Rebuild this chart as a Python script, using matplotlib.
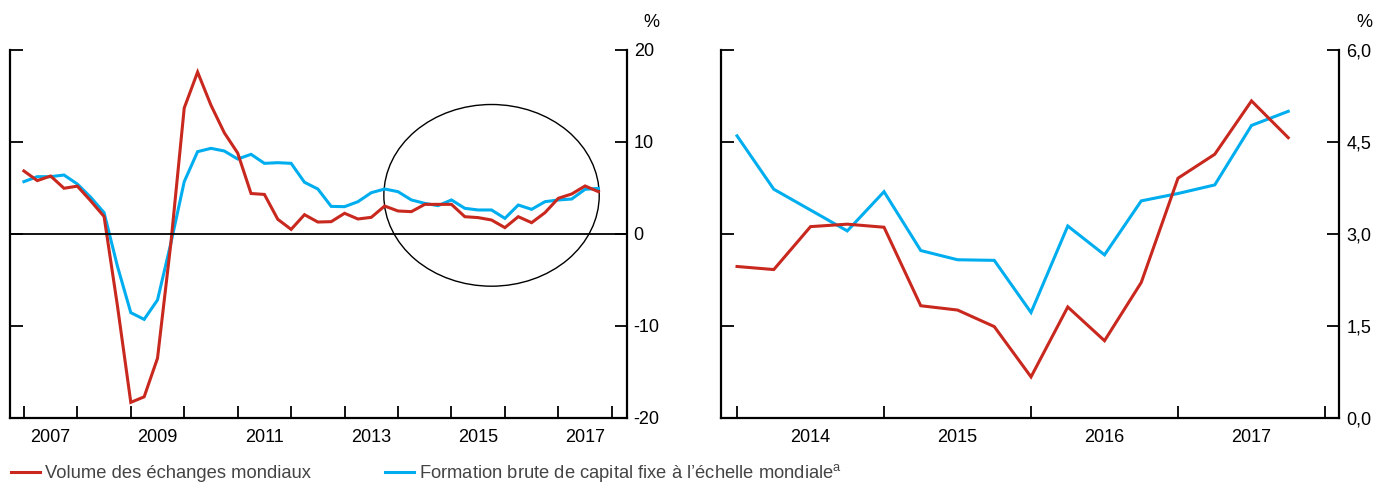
import numpy as np
import matplotlib
matplotlib.use("Agg")
import matplotlib.pyplot as plt
from matplotlib.patches import Ellipse
from matplotlib.lines import Line2D

plt.rcParams['font.family'] = ['Liberation Sans', 'DejaVu Sans']
plt.rcParams['mathtext.fontset'] = 'custom'
plt.rcParams['mathtext.rm'] = 'Liberation Sans'
plt.rcParams['axes.unicode_minus'] = False

RED = '#c8281e'
BLUE = '#00aeef'

# gauche : trimestriel 2007T1 - 2017T4, en %
echanges_long = [6.85, 5.8, 6.3, 4.97, 5.2, 3.6, 1.9, -7.8, -18.3, -17.7, -13.5, -1.0,
                 13.7, 17.6, 14.0, 11.0, 8.8, 4.4, 4.3, 1.6, 0.5, 2.1, 1.3, 1.34,
                 2.25, 1.63, 1.81, 3.04, 2.5, 2.43, 3.22, 3.22, 3.22, 1.88, 1.78, 1.52,
                 0.69, 1.88, 1.23, 2.32, 3.88, 4.35, 5.22, 4.6]
fbcf_long = [5.69, 6.23, 6.23, 6.41, 5.43, 3.99, 2.32, -3.5, -8.55, -9.28, -7.17, -1.0,
             5.69, 8.95, 9.31, 9.02, 8.15, 8.66, 7.68, 7.75, 7.68, 5.62, 4.89, 3.0,
             2.97, 3.51, 4.49, 4.89, 4.6, 3.7, 3.33, 3.08, 3.7, 2.79, 2.61, 2.61,
             1.7, 3.15, 2.68, 3.51, 3.7, 3.8, 4.86, 4.96]
# droite : trimestriel 2014T1 - 2017T4, en %
echanges_court = [2.47, 2.42, 3.12, 3.16, 3.11, 1.83, 1.76, 1.49,
                  0.67, 1.81, 1.26, 2.21, 3.91, 4.3, 5.17, 4.57]
fbcf_court = [4.6, 3.73, 3.39, 3.05, 3.69, 2.73, 2.58, 2.57,
              1.72, 3.13, 2.66, 3.54, 3.66, 3.8, 4.77, 5.0]

x_long = 2007 + np.arange(len(echanges_long)) / 4
x_court = 2014 + np.arange(len(echanges_court)) / 4

fig = plt.figure(figsize=(13.9, 4.83), dpi=100)
ax1 = fig.add_axes([0.0072, 0.1346, 0.4437, 0.7619])
ax2 = fig.add_axes([0.5185, 0.1346, 0.4450, 0.7619])


def habillage(ax, years, labels, yticks, ylabels):
    for s in ['left', 'right', 'bottom']:
        ax.spines[s].set_linewidth(1.6)
    ax.spines['top'].set_visible(False)
    ax.set_xticks(years)
    ax.set_xticklabels([])
    ax.set_xticks([y + 0.5 for y in labels], minor=True)
    ax.set_xticklabels([str(y) for y in labels], minor=True)
    ax.tick_params(axis='x', which='major', direction='in', length=9, width=1.3)
    ax.tick_params(axis='x', which='minor', length=0, pad=8, labelsize=13)
    ax.set_yticks(yticks)
    ax.set_yticklabels(ylabels)
    ax.tick_params(axis='y', direction='in', length=9, width=1.3, left=True, right=True,
                   labelleft=False, labelright=True, labelsize=13, pad=5)
    ax.text(1.04, 1.075, '%', transform=ax.transAxes, ha='center', va='center', fontsize=13)


ax1.plot(x_long, fbcf_long, color=BLUE, lw=2.2, solid_joinstyle='miter')
ax1.plot(x_long, echanges_long, color=RED, lw=2.2, solid_joinstyle='miter')
ax1.axhline(0, color='black', lw=1.3)
ax1.add_patch(Ellipse((2015.75, 4.2), 4.03, 19.75, fill=False, ec='black', lw=1.0))
ax1.set_xlim(2006.74, 2018.28)
ax1.set_ylim(-20, 20)
habillage(ax1, range(2007, 2019), range(2007, 2018, 2),
          [-20, -10, 0, 10, 20], ['-20', '-10', '0', '10', '20'])

ax2.plot(x_court, fbcf_court, color=BLUE, lw=2.2, solid_joinstyle='miter')
ax2.plot(x_court, echanges_court, color=RED, lw=2.2, solid_joinstyle='miter')
ax2.set_xlim(2013.889, 2018.097)
ax2.set_ylim(0, 6)
habillage(ax2, range(2014, 2019), range(2014, 2018),
          [0, 1.5, 3, 4.5, 6], ['0,0', '1,5', '3,0', '4,5', '6,0'])

poignees = [Line2D([], [], color=RED, lw=2.2), Line2D([], [], color=BLUE, lw=2.2)]
leg = fig.legend(poignees, ['Volume des échanges mondiaux',
                            "Formation brute de capital fixe à l’échelle mondiale$^{\\mathrm{a}}$"],
                 loc='lower left', bbox_to_anchor=(0.0, -0.025), ncol=2, frameon=False,
                 fontsize=13.2, handlelength=1.6, handletextpad=0.27, columnspacing=4.0,
                 borderaxespad=0.2)
for t in leg.get_texts():
    t.set_color('#444444')

fig.savefig('out.png', dpi=100)
